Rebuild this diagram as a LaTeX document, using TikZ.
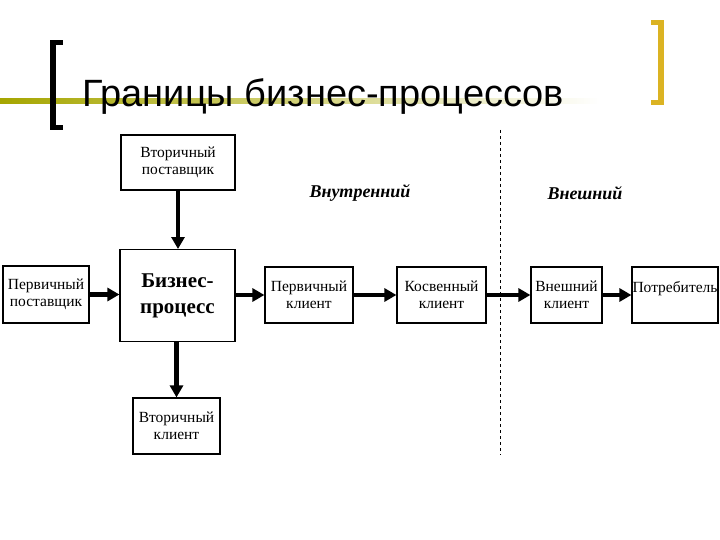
\documentclass[tikz,border=0pt]{standalone}
\usepackage{fontspec}
\setmainfont{Liberation Serif}
\newfontfamily\titlefont{Liberation Sans}
\usetikzlibrary{arrows.meta}
\begin{document}
\begin{tikzpicture}[x=1pt,y=-1pt,
 bx/.style={draw,line width=1.2pt,align=center,inner sep=0pt,font=\fontsize{15.5}{17}\selectfont},
 arr/.style={line width=4.5pt,-{Triangle[length=12pt,width=13pt]}}]
\useasboundingbox (0,0) rectangle (720,540);
\shade[left color=olive!70,right color=white] (0,99) rectangle (600,104);
\fill (50,40) rectangle (56,130); \fill (50,40) rectangle (63,45); \fill (50,125) rectangle (63,130);
\fill[yellow!60!orange!85!black] (658,20) rectangle (664,105); \fill[yellow!60!orange!85!black] (651,20) rectangle (664,25); \fill[yellow!60!orange!85!black] (651,100) rectangle (664,105);
\node[anchor=base west,font=\titlefont\fontsize{38}{40}\selectfont,inner sep=0] (t) at (82,107) {Границы бизнес-процессов};
\node[bx,minimum width=114,minimum height=55] (vp) at (178,162.5) {Вторичный\\поставщик};
\node[bx,minimum width=115,minimum height=92,font=\bfseries\fontsize{21}{26}\selectfont,anchor=north] (bp) at (177.5,249) {Бизнес-\\процесс};
\node[bx,minimum width=86,minimum height=57] (pp) at (46,294.5) {Первичный\\поставщик};
\node[bx,minimum width=88,minimum height=56] (pk) at (309,295) {Первичный\\клиент};
\node[bx,minimum width=89,minimum height=56] (kk) at (441.5,295) {Косвенный\\клиент};
\node[bx,minimum width=71,minimum height=56] (vk) at (566.5,295) {Внешний\\клиент};
\node[bx,minimum width=86,minimum height=56] (pt) at (675,295) {Потребитель\\\mbox{}};
\node[bx,minimum width=87,minimum height=56] (vtk) at (176.5,426) {Вторичный\\клиент};
\coordinate (d1) at (500,130); \coordinate (d2) at (500,455);
\draw[dashed] (d1) -- (d2);
\node[font=\bfseries\itshape\fontsize{18}{20}\selectfont] (in) at (360,193) {Внутренний};
\node[font=\bfseries\itshape\fontsize{18}{20}\selectfont] (ex) at (585,193) {Внешний};
\draw[arr] (vp) -- (vp|-bp.north);
\draw[arr] (pp) -- (pp-|bp.west);
\draw[arr] (bp.east|-pk) -- (pk);
\draw[arr] (pk) -- (kk);
\draw[arr] (kk) -- (vk);
\draw[arr] (vk) -- (pt);
\draw[arr] (vtk|-bp.south) -- (vtk);
\end{tikzpicture}
\end{document}
